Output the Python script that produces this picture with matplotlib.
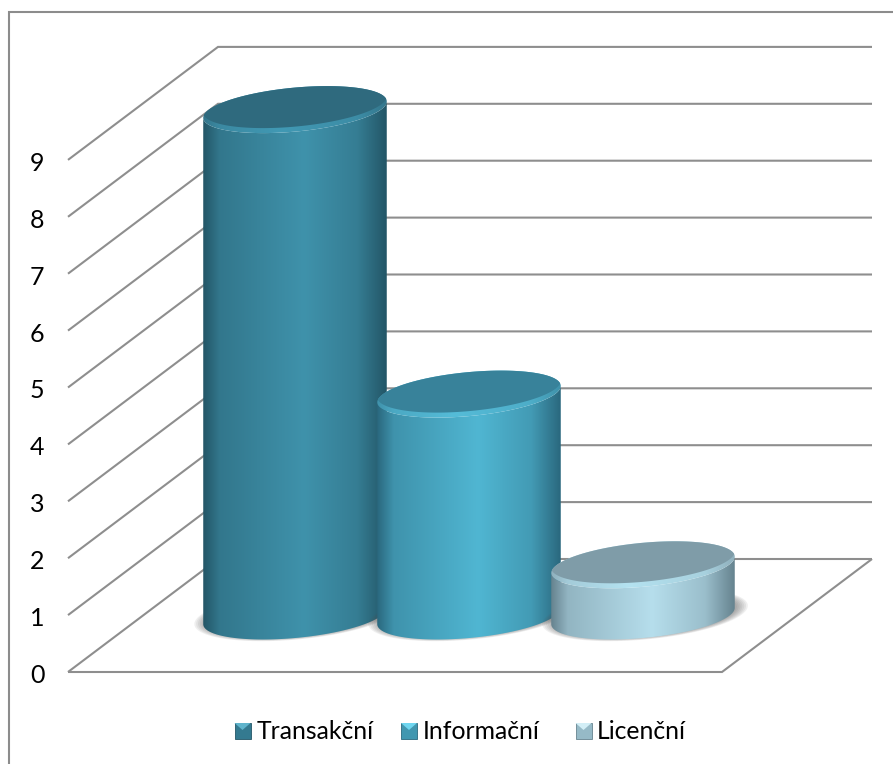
import numpy as np
import matplotlib
matplotlib.use("Agg")
import matplotlib.pyplot as plt
from matplotlib.colors import LinearSegmentedColormap, to_rgb
from matplotlib.patches import Polygon, Rectangle

plt.rcParams['font.family'] = ['Lato', 'DejaVu Sans']

# Chart data
series = ["Transakční", "Informační", "Licenční"]
values = [8.9, 3.9, 0.9]
ticks = [0, 1, 2, 3, 4, 5, 6, 7, 8, 9]

# colours: side edge, side centre, top face, bright rim, legend pyramid
side_dark = ["#235667", "#2a687e", "#66838f"]
side_mid = ["#3f92ab", "#50b6d2", "#b6deec"]
top_face = ["#2f6a7e", "#38829a", "#7f9ca8"]
rim_light = ["#4199b4", "#55bcd8", "#b4e2f0"]
legend_top = ["#5fb4cc", "#6fd6f0", "#d2eef6"]

W, H = 893, 764
fig = plt.figure(figsize=(W / 100, H / 100), dpi=100)
ax = fig.add_axes([0, 0, 1, 1])

# one x unit = spacing of the cylinders, one y unit = one tick on the value axis
UX, UY = 174.0, 56.9
X0, Y0 = 295.0, 672.0
ax.set_xlim(-X0 / UX, (W - X0) / UX)
ax.set_ylim(-(H - Y0) / UY, Y0 / UY)
ax.axis("off")


def px(x, y):
    return (x - X0) / UX, (Y0 - y) / UY


def mix(a, b, f):
    return tuple(np.array(to_rgb(a)) * (1 - f) + np.array(to_rgb(b)) * f)


# oblique projection of the floor
DEPTH_X, DEPTH_Y = 150 / UX, 113 / UY
FLOOR_L, FLOOR_R = (68 - X0) / UX, (722 - X0) / UX
GRID = "#8e8e8e"

for t in ticks:
    ax.plot([FLOOR_L, FLOOR_L + DEPTH_X, FLOOR_R + DEPTH_X],
            [t, t + DEPTH_Y, t + DEPTH_Y], color=GRID, lw=1.5, zorder=1,
            solid_joinstyle="miter", solid_capstyle="butt")
    ax.text(FLOOR_L - 31 / UX, t - 3.5 / UY, str(t), ha="center", va="center",
            fontsize=18, color="black")
ax.plot([FLOOR_L, FLOOR_R, FLOOR_R + DEPTH_X], [0, 0, DEPTH_Y],
        color=GRID, lw=1.5, zorder=1, solid_joinstyle="miter", solid_capstyle="butt")

# outer frame of the chart area
ax.add_patch(Rectangle((8.5 / W, -0.1), 2, (H - 12) / H + 0.1, transform=ax.transAxes,
                       fill=False, ec="#8c8c8c", lw=1.5, zorder=0, clip_on=False))

# cylinder cross-section, sheared because of the oblique view
RX, SX, RY = 86 / UX, 32 / UX, 23.5 / UY
BASE_Y = 56 / UY
half_w = np.hypot(RX, SX)
T0 = np.arctan2(SX, RX)


def ellipse_points(cx, cy, scale=1.0, start=0.0, stop=2 * np.pi):
    t = np.linspace(start, stop, 241)
    return np.column_stack([cx + scale * (RX * np.cos(t) + SX * np.sin(t)),
                            cy + scale * RY * np.sin(t)])


def gradient_fill(xy, dark, mid, x0, x1, y0, y1, z, peak=0.55):
    stops = [(0, dark), (0.09, mix(dark, mid, 0.55)), (peak, mid),
             (0.84, mix(dark, mid, 0.65)), (1, dark)]
    cmap = LinearSegmentedColormap.from_list("g", stops)
    im = ax.imshow(np.linspace(0, 1, 256)[None, :], cmap=cmap, extent=[x0, x1, y0, y1],
                   aspect="auto", zorder=z, interpolation="bilinear")
    patch = Polygon(xy, closed=True, fc="none", ec="none")
    ax.add_patch(patch)
    im.set_clip_path(patch)


for i, v in enumerate(values):
    z = 3 + i * 2
    cx = float(i)
    top_y = BASE_Y + v

    # soft contact shadow on the floor
    for s in np.linspace(1.12, 1.0, 7):
        ax.add_patch(Polygon(ellipse_points(cx + 0.012, BASE_Y + 0.02, s), closed=True,
                             fc="#555555", ec="none", alpha=0.09, zorder=z - 0.5))

    # side wall: front arc of the base closed up to the top
    lower = ellipse_points(cx, BASE_Y, start=T0 + np.pi, stop=T0 + 2 * np.pi)
    wall = np.vstack([lower, lower[::-1] + np.array([0, v])])
    gradient_fill(wall, side_dark[i], side_mid[i], cx - half_w, cx + half_w,
                  0, top_y + 1, z)

    # top face: bright crescent along the front edge, flat colour behind it
    outline = ellipse_points(cx, top_y)
    gradient_fill(outline, mix(top_face[i], side_mid[i], 0.3), rim_light[i],
                  cx - half_w, cx + half_w, top_y - 1, top_y + 1, z + 0.2, peak=0.42)
    face = Polygon(ellipse_points(cx, top_y + 5 / UY), closed=True,
                   fc=top_face[i], ec="none", zorder=z + 0.4)
    ax.add_patch(face)
    clip = Polygon(outline, closed=True, fc="none", ec="none")
    ax.add_patch(clip)
    face.set_clip_path(clip)

# legend along the bottom
legend_x = [242.5, 409, 583.5]
text_x = [257, 423, 597]
LEGEND_Y = 731
SIZE = 8.0

for i, name in enumerate(series):
    lx, ly = legend_x[i], LEGEND_Y
    nw, ne = px(lx - SIZE, ly - SIZE), px(lx + SIZE, ly - SIZE)
    sw, se = px(lx - SIZE, ly + SIZE), px(lx + SIZE, ly + SIZE)
    mid = px(lx, ly - 1)
    ax.add_patch(Polygon([nw, ne, se, sw], closed=True, fc=mix(side_dark[i], side_mid[i], 0.6),
                         ec=side_dark[i], lw=0.6, zorder=11))
    ax.add_patch(Polygon([nw, ne, mid], closed=True, fc=legend_top[i], ec="none", zorder=12))
    tx, ty = px(text_x[i], ly + 0.5)
    ax.text(tx, ty, name, ha="left", va="center", fontsize=17.8, color="black")

fig.savefig("out.png", dpi=100, facecolor="white")
